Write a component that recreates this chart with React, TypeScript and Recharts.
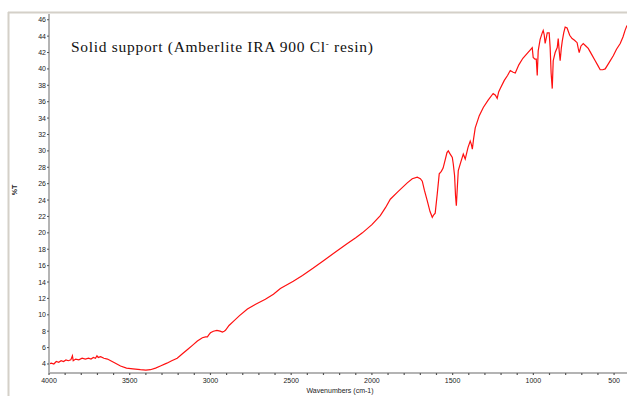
import React from 'react';
import { LineChart, Line, XAxis, YAxis } from 'recharts';

const wavenumbers = [
  4000, 3985, 3970, 3955, 3940, 3925, 3910, 3895, 3880, 3865, 3855, 3850, 3835, 3815, 3795, 3775,
  3755, 3740, 3725, 3712, 3703, 3695, 3680, 3660, 3638, 3600, 3557, 3520, 3480, 3434, 3400, 3372,
  3340, 3310, 3270, 3240, 3206, 3170, 3140, 3110, 3081, 3050, 3030, 3019, 3008, 3000, 2982, 2960,
  2940, 2926, 2915, 2907, 2885, 2858, 2820, 2771, 2720, 2660, 2610, 2567, 2487, 2430, 2363, 2300,
  2230, 2152, 2100, 2059, 2000, 1948, 1915, 1886, 1840, 1781, 1750, 1719, 1700, 1688, 1675, 1657,
  1640, 1626, 1617, 1608, 1595, 1583, 1570, 1559, 1545, 1535, 1527, 1515, 1502, 1496, 1488, 1482,
  1477, 1471, 1465, 1450, 1434, 1422, 1405, 1391, 1384, 1378, 1370, 1360, 1335, 1310, 1280, 1249,
  1235, 1224, 1215, 1205, 1180, 1160, 1143, 1125, 1112, 1090, 1065, 1038, 1020, 1007, 1001, 990,
  982, 976, 970, 958, 945, 939, 933, 927, 920, 914, 902, 896, 890, 883, 877, 865,
  852, 846, 840, 834, 827, 821, 812, 803, 791, 775, 760, 745, 729, 722, 716, 705,
  691, 675, 660, 640, 617, 600, 586, 570, 555, 530, 505, 485, 462, 445, 432, 420,
];

// %T at each wavenumber
const transmittance = [
  4.0, 4.1, 4.0, 4.3, 4.2, 4.4, 4.3, 4.5, 4.4, 4.5, 5.0, 4.4, 4.6, 4.5, 4.7, 4.6,
  4.7, 4.6, 4.8, 4.7, 5.0, 4.8, 4.9, 4.7, 4.6, 4.2, 3.75, 3.5, 3.4, 3.3, 3.25, 3.3,
  3.5, 3.75, 4.1, 4.4, 4.7, 5.3, 5.8, 6.3, 6.8, 7.2, 7.3, 7.3, 7.6, 7.8, 8.0, 8.1,
  8.0, 7.9, 8.0, 8.1, 8.7, 9.2, 9.9, 10.7, 11.3, 11.9, 12.5, 13.2, 14.1, 14.8, 15.7, 16.6,
  17.6, 18.7, 19.4, 20.0, 21.0, 22.1, 23.1, 24.1, 25.0, 26.1, 26.6, 26.8, 26.6, 26.3, 25.2, 23.9,
  22.6, 21.9, 22.2, 22.4, 24.8, 27.2, 27.5, 27.9, 29.0, 29.8, 30.0, 29.6, 29.2, 28.4, 27.0, 24.5,
  23.3, 25.5, 27.6, 28.6, 29.6, 29.0, 30.4, 31.2, 30.8, 30.2, 31.5, 32.8, 34.3, 35.3, 36.2, 37.0,
  36.8, 36.4, 37.2, 37.6, 38.6, 39.2, 39.8, 39.6, 39.5, 40.5, 41.3, 41.9, 42.3, 42.6, 41.4, 41.2,
  41.2, 39.2, 42.2, 43.6, 44.4, 44.7, 44.2, 43.1, 43.8, 44.4, 44.4, 42.6, 39.5, 37.6, 41.0, 42.0,
  42.6, 43.7, 42.2, 41.0, 42.5, 43.4, 44.4, 45.1, 45.0, 44.1, 43.7, 43.5, 43.2, 42.5, 42.0, 42.8,
  43.1, 42.8, 42.5, 41.8, 41.0, 40.4, 39.9, 39.9, 40.0, 40.8, 41.6, 42.4, 43.1, 43.9, 44.7, 45.3,
];

const xMajorTicks = [4000, 3500, 3000, 2500, 2000, 1500, 1000, 500];
const yTicks = [4, 6, 8, 10, 12, 14, 16, 18, 20, 22, 24, 26, 28, 30, 32, 34, 36, 38, 40, 42, 44, 46];

const xMinorTicks: number[] = [];
for (let v = 4000; v >= 500; v -= 100) xMinorTicks.push(v);

const data = wavenumbers.map((wn, i) => ({ wn, t: transmittance[i] }));

const W = 627;
const H = 396;
const AXIS_GREY = '#b4b4b4';
const SANS = '"Liberation Sans", Arial, sans-serif';

const XTick = ({ x, y, payload }: any) => {
  const major = xMajorTicks.includes(payload.value);
  return (
    <g>
      <line x1={x} x2={x} y1={y - 2} y2={y} stroke="#555" strokeWidth={1.2} />
      {major && (
        <text x={x} y={y + 8} textAnchor="middle" fontSize={7} fontFamily={SANS} fill="#222">
          {payload.value}
        </text>
      )}
    </g>
  );
};

const YTick = ({ x, y, payload }: any) => (
  <g>
    <line x1={x} x2={x + 2} y1={y} y2={y} stroke="#555" strokeWidth={1} />
    <text x={x - 1} y={y + 2.5} textAnchor="end" fontSize={7} fontFamily={SANS} fill="#222">
      {payload.value}
    </text>
  </g>
);

export default function App() {
  return (
    <div style={{ position: 'absolute', left: 0, top: 0, width: W, height: H, overflow: 'hidden', background: '#fff' }}>
      <LineChart width={W} height={H} data={data} margin={{ top: 14, right: 0, bottom: 0, left: 0 }}>
        <XAxis
          dataKey="wn"
          type="number"
          domain={[420, 4000]}
          reversed
          allowDataOverflow
          ticks={xMinorTicks}
          interval={0}
          height={23}
          tickSize={0}
          tickLine={false}
          tick={<XTick />}
          axisLine={{ stroke: AXIS_GREY, strokeWidth: 2 }}
        />
        <YAxis
          type="number"
          domain={[2.9, 46.7]}
          allowDataOverflow
          ticks={yTicks}
          interval={0}
          width={49}
          tickSize={0}
          tickLine={false}
          tick={<YTick />}
          axisLine={{ stroke: AXIS_GREY, strokeWidth: 2 }}
        />
        <Line
          type="linear"
          dataKey="t"
          stroke="#ff1010"
          strokeWidth={1.2}
          dot={false}
          isAnimationActive={false}
        />
      </LineChart>
      <svg width={W} height={H} style={{ position: 'absolute', left: 0, top: 0, pointerEvents: 'none' }}>
        <line x1={8.5} x2={8.5} y1={12} y2={H} stroke="#d4d0c8" strokeWidth={2} />
        <line x1={8} x2={W} y1={12.5} y2={12.5} stroke="#d4d0c8" strokeWidth={2} />
        <text
          x={71}
          y={52}
          fontFamily='"Liberation Serif", "Times New Roman", serif'
          fontSize={15.5}
          letterSpacing={0.7}
          fill="#111"
        >
          Solid support (Amberlite IRA 900 Cl
          <tspan dy={-5} fontSize={9}>-</tspan>
          <tspan dy={5}> resin)</tspan>
        </text>
        <text
          x={17}
          y={190}
          transform="rotate(-90 17 190)"
          textAnchor="middle"
          fontSize={7}
          fontWeight="bold"
          fontFamily={SANS}
          fill="#222"
        >
          %T
        </text>
        <text x={340} y={393} textAnchor="middle" fontSize={7} fontFamily={SANS} fill="#222">
          Wavenumbers (cm-1)
        </text>
      </svg>
    </div>
  );
}
